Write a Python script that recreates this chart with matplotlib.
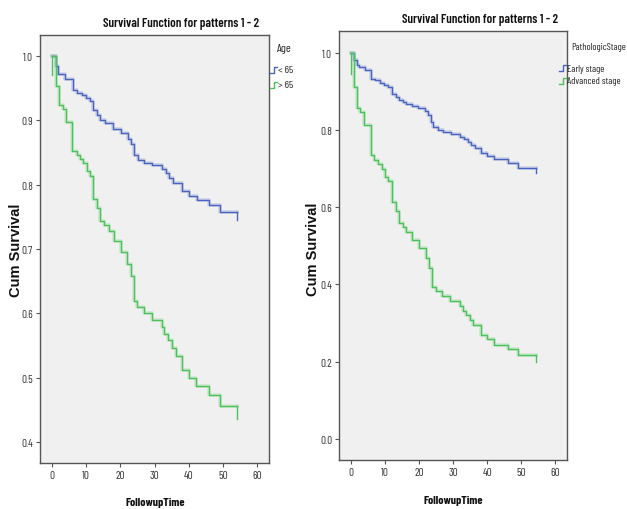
import matplotlib
matplotlib.use("Agg")
import matplotlib.pyplot as plt
from matplotlib.lines import Line2D

# =========================
# data
# =========================
age_young_t = [0, 1.2, 1.9, 3.9, 6.1, 7.3, 8.8, 10.0, 11.2, 12.2, 13.1, 14.1, 15.6,
               18.0, 20.1, 22.4, 23.2, 24.0, 25.3, 26.9, 29.2, 32.1, 33.3, 34.3,
               35.5, 37.9, 40.2, 42.3, 46.0, 49.1, 54.2]
age_young_s = [1.0, 0.984, 0.973, 0.964, 0.947, 0.943, 0.939, 0.935, 0.930, 0.916,
               0.909, 0.900, 0.896, 0.887, 0.880, 0.871, 0.863, 0.846, 0.838, 0.834,
               0.830, 0.824, 0.818, 0.811, 0.803, 0.790, 0.783, 0.776, 0.768, 0.758,
               0.745]

age_old_t = [0, 1.2, 2.1, 3.2, 4.1, 6.0, 7.3, 8.3, 9.0, 10.2, 11.2, 12.2, 13.1, 14.1,
             15.4, 16.8, 18.2, 20.1, 22.1, 23.1, 24.1, 25.0, 27.0, 29.2, 32.1, 32.9,
             34.0, 35.0, 36.2, 38.1, 40.2, 42.1, 46.0, 49.1, 54.2]
age_old_s = [1.0, 0.954, 0.924, 0.918, 0.898, 0.853, 0.847, 0.840, 0.834, 0.821,
             0.813, 0.778, 0.764, 0.744, 0.737, 0.728, 0.712, 0.695, 0.677, 0.658,
             0.619, 0.609, 0.600, 0.589, 0.578, 0.568, 0.558, 0.546, 0.534, 0.511,
             0.500, 0.487, 0.473, 0.455, 0.435]
age_old_start = 0.97

early_t = [0, 1.0, 1.8, 2.6, 4.1, 5.9, 7.2, 8.5, 9.8, 11.1, 12.1, 13.3, 14.3, 15.3,
           16.2, 17.9, 19.8, 21.8, 22.8, 23.5, 24.2, 25.7, 27.1, 29.3, 32.0, 33.2,
           34.4, 35.4, 36.4, 38.1, 40.1, 42.0, 46.1, 49.0, 54.2]
early_s = [1.0, 0.981, 0.968, 0.963, 0.955, 0.933, 0.929, 0.923, 0.917, 0.911,
           0.894, 0.885, 0.877, 0.872, 0.868, 0.863, 0.857, 0.849, 0.840, 0.820,
           0.807, 0.800, 0.796, 0.790, 0.783, 0.777, 0.768, 0.762, 0.755, 0.740,
           0.733, 0.724, 0.714, 0.703, 0.688]

adv_t = [0, 1.0, 1.8, 2.8, 4.0, 5.9, 6.9, 8.0, 9.1, 10.1, 11.1, 12.1, 13.3, 14.3,
         15.3, 16.2, 17.9, 20.1, 22.1, 23.1, 23.9, 25.0, 26.9, 29.1, 32.0, 33.0,
         33.9, 34.9, 35.9, 38.1, 40.1, 42.0, 46.1, 48.9, 54.2]
adv_s = [1.0, 0.911, 0.857, 0.846, 0.813, 0.735, 0.723, 0.711, 0.698, 0.679,
         0.668, 0.613, 0.590, 0.559, 0.549, 0.537, 0.516, 0.494, 0.468, 0.442,
         0.393, 0.382, 0.369, 0.357, 0.345, 0.332, 0.321, 0.308, 0.295, 0.270,
         0.259, 0.244, 0.233, 0.216, 0.198]
adv_start = 0.945

x_ticks = [0, 10, 20, 30, 40, 50, 60]

BLUE = "#4a63bf"
GREEN = "#4cc25a"
BG = "#f0f0f0"

NARROW = ["Barlow Condensed", "Archivo Narrow", "Roboto Condensed", "Liberation Sans",
          "DejaVu Sans"]
WIDE = ["Liberation Sans", "DejaVu Sans"]
plt.rcParams["font.family"] = NARROW

W, H = 627, 510
fig = plt.figure(figsize=(W / 100, H / 100), dpi=100)
fig.patch.set_facecolor("white")


def box(x0, y0, x1, y1):
    return [x0 / W, 1 - y1 / H, (x1 - x0) / W, (y1 - y0) / H]


def put(x, y, s, **kw):
    kw.setdefault("color", "#222222")
    kw.setdefault("va", "center")
    return fig.text(x / W, 1 - y / H, s, **kw)


def km_line(ax, t, s, color, start=None):
    # step curve, last point is the final drop
    xs = list(t)
    ys = list(s[:-2]) + [s[-2], s[-2]]
    ax.step(xs, ys, where="post", color=color, lw=2.6, alpha=0.22, zorder=2)
    ax.step(xs, ys, where="post", color=color, lw=1.0, zorder=3)
    ax.plot([t[-1], t[-1]], [s[-2], s[-1]], color=color, lw=1.0, zorder=3)
    if start is not None:
        ax.plot([t[0], t[0]], [start, s[0]], color=color, lw=1.0, zorder=3)


def style_axes(ax, ylim, yticks):
    ax.set_facecolor(BG)
    ax.set_xlim(-3.4, 63.4)
    ax.set_ylim(*ylim)
    ax.set_xticks(x_ticks)
    ax.set_yticks(yticks)
    ax.set_yticklabels(["%.1f" % v for v in yticks])
    for sp in ax.spines.values():
        sp.set_color("#555555")
        sp.set_linewidth(1.0)
    ax.tick_params(axis="both", direction="out", length=3, width=0.8,
                   colors="#555555", labelcolor="#333333", labelsize=8,
                   top=False, right=False, pad=2)


def legend_glyph(x, y, color):
    # small step symbol like SPSS legend
    xs = [x, x + 3.5, x + 3.5, x + 7]
    ys = [y + 3, y + 3, y - 3, y - 3]
    fig.add_artist(Line2D([v / W for v in xs], [1 - v / H for v in ys],
                          color=color, lw=1.0, transform=fig.transFigure))


# (1) Age
ax1 = fig.add_axes(box(40, 36, 269, 464))
km_line(ax1, age_young_t, age_young_s, BLUE)
km_line(ax1, age_old_t, age_old_s, GREEN, start=age_old_start)
style_axes(ax1, (0.367, 1.033), [0.4, 0.5, 0.6, 0.7, 0.8, 0.9, 1.0])
put(181, 24, "Survival Function for patterns 1 - 2", ha="center",
    fontsize=9.2, fontweight="semibold", color="#111111")
put(16, 250, "Cum Survival", rotation=90, ha="center", fontsize=10.5,
    fontweight="bold", family=WIDE, color="#111111")
put(155, 503, "FollowupTime", ha="center", fontsize=8.5, fontweight="bold",
    color="#111111")
put(277, 49, "Age", ha="left", fontsize=8.5)
legend_glyph(270, 71, BLUE)
put(278, 71, "< 65", ha="left", fontsize=7.5)
legend_glyph(270, 86, GREEN)
put(278, 86, "> 65", ha="left", fontsize=7.5)

# (2) Pathologic stage
ax2 = fig.add_axes(box(339, 32, 567, 461))
km_line(ax2, early_t, early_s, BLUE)
km_line(ax2, adv_t, adv_s, GREEN, start=adv_start)
style_axes(ax2, (-0.055, 1.057), [0.0, 0.2, 0.4, 0.6, 0.8, 1.0])
put(480, 20, "Survival Function for patterns 1 - 2", ha="center",
    fontsize=9.2, fontweight="semibold", color="#111111")
put(313, 249, "Cum Survival", rotation=90, ha="center", fontsize=10.5,
    fontweight="bold", family=WIDE, color="#111111")
put(453, 501, "FollowupTime", ha="center", fontsize=8.5, fontweight="bold",
    color="#111111")
put(571, 47, "PathologicStage", ha="left", fontsize=7.2)
legend_glyph(559, 69, BLUE)
put(567, 69, "Early stage", ha="left", fontsize=7.2)
legend_glyph(559, 82, GREEN)
put(567, 82, "Advanced stage", ha="left", fontsize=7.2)

fig.savefig("out.png", dpi=100)
